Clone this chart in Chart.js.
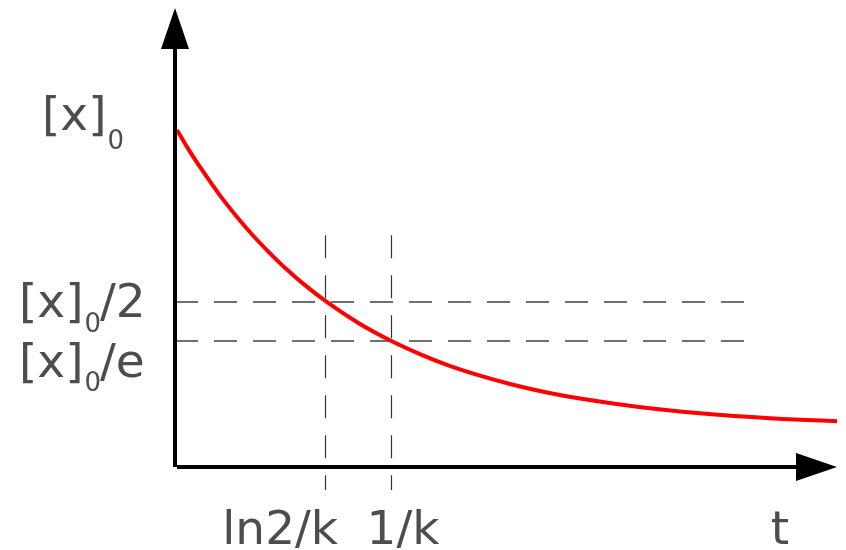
<!DOCTYPE html>
<html lang="en">
<head>
<meta charset="UTF-8">
<title>First-order decay</title>
<script src="https://cdn.jsdelivr.net/npm/chart.js"></script>
<style>
    body { margin: 0; background: #ffffff; }
    canvas { display: block; }
</style>
</head>
<body>
<canvas id="decayChart" width="846" height="550"></canvas>
<script>
    // curve: t in units of 1/k, concentration in units of [x]0
    const timeValues = [0.009, 0.069, 0.13, 0.208, 0.287, 0.361, 0.44, 0.514, 0.593, 0.704, 0.847, 0.995,
                        1.134, 1.259, 1.412, 1.565, 1.722, 1.875, 2.139, 2.444, 2.755, 3.065];
    const concValues = [1.0, 0.936, 0.877, 0.806, 0.742, 0.687, 0.634, 0.588, 0.544, 0.489, 0.428, 0.376,
                        0.335, 0.303, 0.271, 0.244, 0.221, 0.203, 0.179, 0.159, 0.145, 0.136];

    // guide lines
    const yGuideValues = [0.49, 0.374];
    const xGuideValues = [0.693, 1.0];
    const guideEndX = 2.653;       // where the horizontal dashes stop
    const guideTopY = 0.688;       // vertical dashes start
    const guideBottomY = -0.068;   // and end below the axis

    // axis labels (main text, subscript, trailing text)
    const yLabels = [
        { value: 1.0, main: "[x]", sub: "0", rest: "", x: 42, base: 130, subBase: 149 },
        { value: 0.49, main: "[x]", sub: "0", rest: "/2", x: 19, base: 317, subBase: 332 },
        { value: 0.374, main: "[x]", sub: "0", rest: "/e", x: 19, base: 377, subBase: 391 }
    ];
    const xLabels = [
        { value: 0.487, text: "ln2/k" },
        { value: 1.056, text: "1/k" },
        { value: 2.801, text: "t" }
    ];

    const textColor = "#4d4d4d";
    const mainFont = "47px 'DejaVu Sans'";
    const subFont = "26px 'DejaVu Sans'";

    const guides = {
        id: "guides",
        beforeDatasetsDraw(chart) {
            const ctx = chart.ctx;
            const xs = chart.scales.x, ys = chart.scales.y;
            ctx.save();
            ctx.strokeStyle = "#707070";
            ctx.lineWidth = 1.8;
            ctx.setLineDash([23, 16]);
            yGuideValues.forEach(v => {
                let py = Math.round(ys.getPixelForValue(v));
                ctx.beginPath();
                ctx.moveTo(xs.getPixelForValue(0), py);
                ctx.lineTo(xs.getPixelForValue(guideEndX), py);
                ctx.stroke();
            });
            ctx.strokeStyle = "#333333";
            ctx.lineWidth = 1.2;
            ctx.setLineDash([23, 17]);
            xGuideValues.forEach(v => {
                let px = Math.round(xs.getPixelForValue(v)) + 0.5;
                ctx.beginPath();
                ctx.moveTo(px, ys.getPixelForValue(guideTopY));
                ctx.lineTo(px, ys.getPixelForValue(guideBottomY));
                ctx.stroke();
            });
            ctx.restore();
        }
    };

    const axesAndLabels = {
        id: "axesAndLabels",
        afterDraw(chart) {
            const ctx = chart.ctx;
            const area = chart.chartArea;
            const xs = chart.scales.x, ys = chart.scales.y;
            const x0 = xs.getPixelForValue(0);
            const y0 = ys.getPixelForValue(0);
            ctx.save();
            ctx.fillStyle = "#000000";
            // y axis + arrow
            ctx.fillRect(x0 - 2, area.top + 40, 4, y0 - area.top - 40);
            ctx.beginPath();
            ctx.moveTo(x0, area.top);
            ctx.lineTo(x0 + 14, area.top + 41);
            ctx.lineTo(x0 - 14, area.top + 41);
            ctx.closePath();
            ctx.fill();
            // x axis + arrow
            ctx.fillRect(x0 + 2, y0 - 2, area.right - 41 - x0 - 2, 4);
            ctx.beginPath();
            ctx.moveTo(area.right, y0);
            ctx.lineTo(area.right - 41, y0 - 14);
            ctx.lineTo(area.right - 41, y0 + 14);
            ctx.closePath();
            ctx.fill();

            // labels
            ctx.fillStyle = textColor;
            ctx.textBaseline = "alphabetic";
            ctx.textAlign = "left";
            yLabels.forEach(l => {
                ctx.font = mainFont;
                ctx.fillText(l.main, l.x, l.base);
                let w = ctx.measureText(l.main).width;
                ctx.font = subFont;
                ctx.fillText(l.sub, l.x + w + 1, l.subBase);
                let ws = ctx.measureText(l.sub).width;
                if (l.rest) {
                    ctx.font = mainFont;
                    ctx.fillText(l.rest, l.x + w + ws, l.base);
                }
            });
            ctx.font = mainFont;
            ctx.textAlign = "center";
            xLabels.forEach(l => {
                ctx.fillText(l.text, xs.getPixelForValue(l.value), 544);
            });
            ctx.restore();
        }
    };

    new Chart(document.getElementById("decayChart"), {
        type: "line",
        data: {
            datasets: [{
                data: timeValues.map((t, i) => ({ x: t, y: concValues[i] })),
                borderColor: "#ff0000",
                borderWidth: 4,
                pointRadius: 0,
                fill: false,
                cubicInterpolationMode: "monotone"
            }]
        },
        options: {
            responsive: false,
            animation: false,
            layout: { padding: { left: 175, right: 9, top: 8, bottom: 83 } },
            plugins: { legend: { display: false }, tooltip: { enabled: false } },
            scales: {
                x: { type: "linear", min: 0, max: 3.065, display: false },
                y: { type: "linear", min: 0, max: 1.362, display: false }
            }
        },
        plugins: [guides, axesAndLabels]
    });
</script>
</body>
</html>
